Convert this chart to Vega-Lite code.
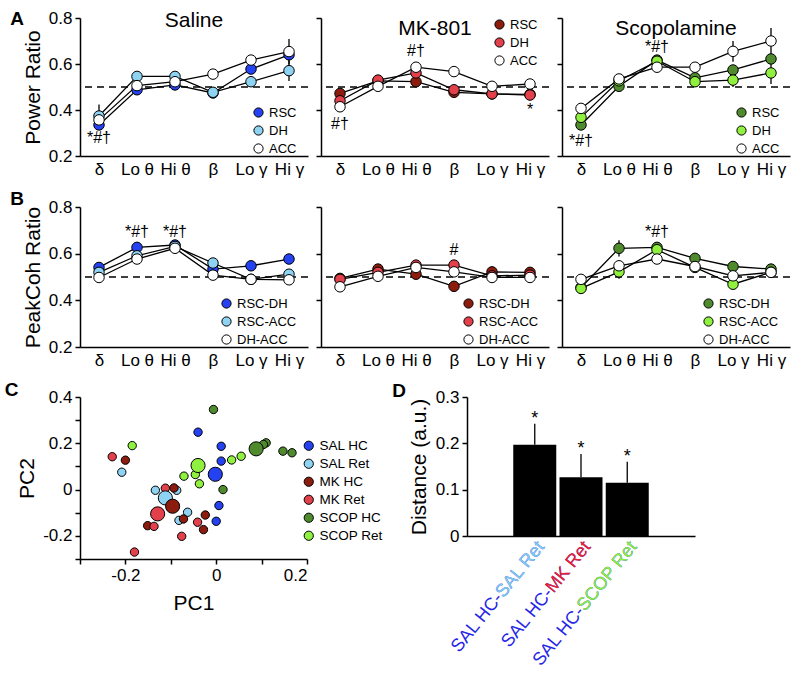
{
  "$schema": "https://vega.github.io/schema/vega-lite/v6.json",
  "padding": {"left": 4, "top": 9, "right": 0, "bottom": 0},
  "spacing": 13,
  "datasets": {
    "power": [
      {"drug":"SAL","s":"RSC","b":"δ","v":0.335},
      {"drug":"SAL","s":"RSC","b":"Lo θ","v":0.488},
      {"drug":"SAL","s":"RSC","b":"Hi θ","v":0.509},
      {"drug":"SAL","s":"RSC","b":"β","v":0.474},
      {"drug":"SAL","s":"RSC","b":"Lo γ","v":0.578,"e":0.02},
      {"drug":"SAL","s":"RSC","b":"Hi γ","v":0.64},
      {"drug":"SAL","s":"DH","b":"δ","v":0.374,"e":0.05},
      {"drug":"SAL","s":"DH","b":"Lo θ","v":0.546},
      {"drug":"SAL","s":"DH","b":"Hi θ","v":0.546},
      {"drug":"SAL","s":"DH","b":"β","v":0.477},
      {"drug":"SAL","s":"DH","b":"Lo γ","v":0.523},
      {"drug":"SAL","s":"DH","b":"Hi γ","v":0.571,"e":0.045},
      {"drug":"SAL","s":"ACC","b":"δ","v":0.357,"e":0.04},
      {"drug":"SAL","s":"ACC","b":"Lo θ","v":0.506},
      {"drug":"SAL","s":"ACC","b":"Hi θ","v":0.523},
      {"drug":"SAL","s":"ACC","b":"β","v":0.556},
      {"drug":"SAL","s":"ACC","b":"Lo γ","v":0.617,"e":0.02},
      {"drug":"SAL","s":"ACC","b":"Hi γ","v":0.654,"e":0.055},
      {"drug":"MK","s":"RSC","b":"δ","v":0.472},
      {"drug":"MK","s":"RSC","b":"Lo θ","v":0.527},
      {"drug":"MK","s":"RSC","b":"Hi θ","v":0.523},
      {"drug":"MK","s":"RSC","b":"β","v":0.477},
      {"drug":"MK","s":"RSC","b":"Lo γ","v":0.47},
      {"drug":"MK","s":"RSC","b":"Hi γ","v":0.468},
      {"drug":"MK","s":"DH","b":"δ","v":0.44},
      {"drug":"MK","s":"DH","b":"Lo θ","v":0.53},
      {"drug":"MK","s":"DH","b":"Hi θ","v":0.561},
      {"drug":"MK","s":"DH","b":"β","v":0.488},
      {"drug":"MK","s":"DH","b":"Lo γ","v":0.47},
      {"drug":"MK","s":"DH","b":"Hi γ","v":0.465},
      {"drug":"MK","s":"ACC","b":"δ","v":0.414},
      {"drug":"MK","s":"ACC","b":"Lo θ","v":0.503},
      {"drug":"MK","s":"ACC","b":"Hi θ","v":0.586},
      {"drug":"MK","s":"ACC","b":"β","v":0.567},
      {"drug":"MK","s":"ACC","b":"Lo γ","v":0.503},
      {"drug":"MK","s":"ACC","b":"Hi γ","v":0.513},
      {"drug":"SCOP","s":"RSC","b":"δ","v":0.335},
      {"drug":"SCOP","s":"RSC","b":"Lo θ","v":0.503},
      {"drug":"SCOP","s":"RSC","b":"Hi θ","v":0.617},
      {"drug":"SCOP","s":"RSC","b":"β","v":0.54},
      {"drug":"SCOP","s":"RSC","b":"Lo γ","v":0.574},
      {"drug":"SCOP","s":"RSC","b":"Hi γ","v":0.622},
      {"drug":"SCOP","s":"DH","b":"δ","v":0.368},
      {"drug":"SCOP","s":"DH","b":"Lo θ","v":0.527},
      {"drug":"SCOP","s":"DH","b":"Hi θ","v":0.612},
      {"drug":"SCOP","s":"DH","b":"β","v":0.523},
      {"drug":"SCOP","s":"DH","b":"Lo γ","v":0.53,"e":0.03},
      {"drug":"SCOP","s":"DH","b":"Hi γ","v":0.561,"e":0.048},
      {"drug":"SCOP","s":"ACC","b":"δ","v":0.407},
      {"drug":"SCOP","s":"ACC","b":"Lo θ","v":0.535},
      {"drug":"SCOP","s":"ACC","b":"Hi θ","v":0.586},
      {"drug":"SCOP","s":"ACC","b":"β","v":0.586},
      {"drug":"SCOP","s":"ACC","b":"Lo γ","v":0.655,"e":0.045},
      {"drug":"SCOP","s":"ACC","b":"Hi γ","v":0.70,"e":0.056}
    ],
    "coh": [
      {"drug":"SAL","s":"RSC-DH","b":"δ","v":0.541,"e":0.02},
      {"drug":"SAL","s":"RSC-DH","b":"Lo θ","v":0.627},
      {"drug":"SAL","s":"RSC-DH","b":"Hi θ","v":0.637},
      {"drug":"SAL","s":"RSC-DH","b":"β","v":0.534},
      {"drug":"SAL","s":"RSC-DH","b":"Lo γ","v":0.548},
      {"drug":"SAL","s":"RSC-DH","b":"Hi γ","v":0.577},
      {"drug":"SAL","s":"RSC-ACC","b":"δ","v":0.52},
      {"drug":"SAL","s":"RSC-ACC","b":"Lo θ","v":0.591},
      {"drug":"SAL","s":"RSC-ACC","b":"Hi θ","v":0.631},
      {"drug":"SAL","s":"RSC-ACC","b":"β","v":0.56},
      {"drug":"SAL","s":"RSC-ACC","b":"Lo γ","v":0.49},
      {"drug":"SAL","s":"RSC-ACC","b":"Hi γ","v":0.512},
      {"drug":"SAL","s":"DH-ACC","b":"δ","v":0.498},
      {"drug":"SAL","s":"DH-ACC","b":"Lo θ","v":0.577},
      {"drug":"SAL","s":"DH-ACC","b":"Hi θ","v":0.623},
      {"drug":"SAL","s":"DH-ACC","b":"β","v":0.508},
      {"drug":"SAL","s":"DH-ACC","b":"Lo γ","v":0.49},
      {"drug":"SAL","s":"DH-ACC","b":"Hi γ","v":0.488},
      {"drug":"MK","s":"RSC-DH","b":"δ","v":0.494},
      {"drug":"MK","s":"RSC-DH","b":"Lo θ","v":0.534},
      {"drug":"MK","s":"RSC-DH","b":"Hi θ","v":0.512},
      {"drug":"MK","s":"RSC-DH","b":"β","v":0.46},
      {"drug":"MK","s":"RSC-DH","b":"Lo γ","v":0.522},
      {"drug":"MK","s":"RSC-DH","b":"Hi γ","v":0.52},
      {"drug":"MK","s":"RSC-ACC","b":"δ","v":0.49},
      {"drug":"MK","s":"RSC-ACC","b":"Lo θ","v":0.52},
      {"drug":"MK","s":"RSC-ACC","b":"Hi θ","v":0.551},
      {"drug":"MK","s":"RSC-ACC","b":"β","v":0.551},
      {"drug":"MK","s":"RSC-ACC","b":"Lo γ","v":0.505},
      {"drug":"MK","s":"RSC-ACC","b":"Hi γ","v":0.508},
      {"drug":"MK","s":"DH-ACC","b":"δ","v":0.458},
      {"drug":"MK","s":"DH-ACC","b":"Lo θ","v":0.503},
      {"drug":"MK","s":"DH-ACC","b":"Hi θ","v":0.541},
      {"drug":"MK","s":"DH-ACC","b":"β","v":0.522},
      {"drug":"MK","s":"DH-ACC","b":"Lo γ","v":0.498},
      {"drug":"MK","s":"DH-ACC","b":"Hi γ","v":0.498},
      {"drug":"SCOP","s":"RSC-DH","b":"δ","v":0.455},
      {"drug":"SCOP","s":"RSC-DH","b":"Lo θ","v":0.623,"e":0.035},
      {"drug":"SCOP","s":"RSC-DH","b":"Hi θ","v":0.627},
      {"drug":"SCOP","s":"RSC-DH","b":"β","v":0.58},
      {"drug":"SCOP","s":"RSC-DH","b":"Lo γ","v":0.545},
      {"drug":"SCOP","s":"RSC-DH","b":"Hi γ","v":0.534},
      {"drug":"SCOP","s":"RSC-ACC","b":"δ","v":0.451},
      {"drug":"SCOP","s":"RSC-ACC","b":"Lo θ","v":0.522,"e":0.03},
      {"drug":"SCOP","s":"RSC-ACC","b":"Hi θ","v":0.617},
      {"drug":"SCOP","s":"RSC-ACC","b":"β","v":0.541},
      {"drug":"SCOP","s":"RSC-ACC","b":"Lo γ","v":0.469},
      {"drug":"SCOP","s":"RSC-ACC","b":"Hi γ","v":0.52},
      {"drug":"SCOP","s":"DH-ACC","b":"δ","v":0.49},
      {"drug":"SCOP","s":"DH-ACC","b":"Lo θ","v":0.548},
      {"drug":"SCOP","s":"DH-ACC","b":"Hi θ","v":0.577},
      {"drug":"SCOP","s":"DH-ACC","b":"β","v":0.545},
      {"drug":"SCOP","s":"DH-ACC","b":"Lo γ","v":0.505},
      {"drug":"SCOP","s":"DH-ACC","b":"Hi γ","v":0.52}
    ],
    "ann": [
      {"p":"A","drug":"SAL","b":"δ","v":0.28,"t":"*#†"},
      {"p":"A","drug":"MK","b":"δ","v":0.34,"t":"#†"},
      {"p":"A","drug":"MK","b":"Hi θ","v":0.657,"t":"#†"},
      {"p":"A","drug":"MK","b":"Hi γ","v":0.40,"t":"*"},
      {"p":"A","drug":"SCOP","b":"δ","v":0.265,"t":"*#†"},
      {"p":"A","drug":"SCOP","b":"Hi θ","v":0.675,"t":"*#†"},
      {"p":"B","drug":"SAL","b":"Lo θ","v":0.694,"t":"*#†"},
      {"p":"B","drug":"SAL","b":"Hi θ","v":0.694,"t":"*#†"},
      {"p":"B","drug":"MK","b":"β","v":0.617,"t":"#"},
      {"p":"B","drug":"SCOP","b":"Hi θ","v":0.694,"t":"*#†"}
    ],
    "pca": [
      {"g":"SAL HC","k":"i","x":-0.040,"y":0.248},
      {"g":"SAL HC","k":"i","x":0.011,"y":0.187},
      {"g":"SAL HC","k":"i","x":0.011,"y":0.123},
      {"g":"SAL HC","k":"i","x":0.006,"y":-0.069},
      {"g":"SAL HC","k":"i","x":0.0,"y":-0.137},
      {"g":"SAL Ret","k":"i","x":-0.208,"y":0.075},
      {"g":"SAL Ret","k":"i","x":-0.134,"y":-0.003},
      {"g":"SAL Ret","k":"i","x":-0.087,"y":-0.003},
      {"g":"SAL Ret","k":"i","x":-0.063,"y":-0.098},
      {"g":"SAL Ret","k":"i","x":-0.082,"y":-0.133},
      {"g":"MK HC","k":"i","x":-0.2,"y":0.127},
      {"g":"MK HC","k":"i","x":-0.093,"y":0.007},
      {"g":"MK HC","k":"i","x":-0.072,"y":-0.127},
      {"g":"MK HC","k":"i","x":-0.151,"y":-0.156},
      {"g":"MK HC","k":"i","x":-0.024,"y":-0.11},
      {"g":"MK HC","k":"i","x":-0.028,"y":-0.173},
      {"g":"MK Ret","k":"i","x":-0.229,"y":0.142},
      {"g":"MK Ret","k":"i","x":-0.112,"y":0.006},
      {"g":"MK Ret","k":"i","x":-0.137,"y":-0.159},
      {"g":"MK Ret","k":"i","x":-0.076,"y":-0.202},
      {"g":"MK Ret","k":"i","x":-0.18,"y":-0.27},
      {"g":"MK Ret","k":"i","x":-0.041,"y":-0.141},
      {"g":"SCOP HC","k":"i","x":-0.006,"y":0.346},
      {"g":"SCOP HC","k":"i","x":0.11,"y":0.202},
      {"g":"SCOP HC","k":"i","x":0.104,"y":0.195},
      {"g":"SCOP HC","k":"i","x":0.147,"y":0.166},
      {"g":"SCOP HC","k":"i","x":0.167,"y":0.159},
      {"g":"SCOP HC","k":"i","x":0.015,"y":0.0},
      {"g":"SCOP Ret","k":"i","x":-0.185,"y":0.19},
      {"g":"SCOP Ret","k":"i","x":-0.071,"y":0.058},
      {"g":"SCOP Ret","k":"i","x":-0.046,"y":0.065},
      {"g":"SCOP Ret","k":"i","x":-0.037,"y":0.025},
      {"g":"SCOP Ret","k":"i","x":0.055,"y":0.144},
      {"g":"SCOP Ret","k":"i","x":0.034,"y":0.128},
      {"g":"SAL HC","k":"m","x":-0.002,"y":0.066},
      {"g":"SAL Ret","k":"m","x":-0.112,"y":-0.036},
      {"g":"MK HC","k":"m","x":-0.096,"y":-0.072},
      {"g":"MK Ret","k":"m","x":-0.129,"y":-0.105},
      {"g":"SCOP HC","k":"m","x":0.088,"y":0.176},
      {"g":"SCOP Ret","k":"m","x":-0.04,"y":0.104}
    ],
    "dist": [
      {"cat":"SAL HC-SAL Ret","p2":"SAL Ret","v":0.197,"hi":0.242},
      {"cat":"SAL HC-MK Ret","p2":"MK Ret","v":0.127,"hi":0.177},
      {"cat":"SAL HC-SCOP Ret","p2":"SCOP Ret","v":0.115,"hi":0.16}
    ]
  },
  "resolve": {"scale": {"color": "independent", "x": "independent", "y": "independent"}, "legend": {"color": "independent"}},
  "vconcat": [
    {
      "title": {"text": "A", "anchor": "start", "frame": "bounds", "fontSize": 19, "fontWeight": "bold", "dx": -12, "offset": -20},
      "spacing": 6,
      "resolve": {"scale": {"color": "independent", "x": "independent", "y": "independent"}, "legend": {"color": "independent"}},
      "hconcat": [
        {
          "width": 228, "height": 138,
          "title": {"text": "Saline", "frame": "group", "offset": -22},
          "layer": [
            {"data": {"values": [{}]}, "mark": {"type": "rule", "color": "black", "strokeDash": [7, 5], "strokeWidth": 1.3}, "encoding": {"y": {"datum": 0.5, "type": "quantitative"}}},
            {"data": {"name": "power"}, "transform": [{"filter": "datum.drug=='SAL' && datum.e > 0"}], "mark": {"type": "errorbar", "color": "black", "thickness": 1.3},
             "encoding": {"x": {"field":"b","type":"ordinal","scale":{"type":"point","padding":0.5,"domain":["δ","Lo θ","Hi θ","β","Lo γ","Hi γ"]},"axis":{"title":null,"ticks":false,"labelAngle":0,"labelPadding":5}},
                          "y": {"field":"v","type":"quantitative","scale":{"domain":[0.2,0.8],"nice":false,"zero":false},"axis":{"title":"Power Ratio","values":[0.2,0.3,0.4,0.5,0.6,0.7,0.8],"labelExpr":"round(datum.value*10)%2==0 ? format(datum.value,'.1f') : ''","titlePadding":5}},
                          "yError": {"field": "e"}}},
            {"data": {"name": "power"}, "transform": [{"filter": "datum.drug=='SAL'"}], "mark": {"type": "line", "color": "black", "strokeWidth": 1.3},
             "encoding": {"x": {"field":"b","type":"ordinal","scale":{"type":"point","padding":0.5,"domain":["δ","Lo θ","Hi θ","β","Lo γ","Hi γ"]},"axis":{"title":null,"ticks":false,"labelAngle":0,"labelPadding":5}},
                          "y": {"field":"v","type":"quantitative","scale":{"domain":[0.2,0.8],"nice":false,"zero":false},"axis":{"title":"Power Ratio","values":[0.2,0.3,0.4,0.5,0.6,0.7,0.8],"labelExpr":"round(datum.value*10)%2==0 ? format(datum.value,'.1f') : ''","titlePadding":5}},
                          "detail": {"field": "s"}, "order": {"value": null}}},
            {"data": {"name": "power"}, "transform": [{"filter": "datum.drug=='SAL'"}], "mark": {"type": "circle", "size": 110, "opacity": 1, "stroke": "black", "strokeWidth": 1},
             "encoding": {"x": {"field":"b","type":"ordinal","scale":{"type":"point","padding":0.5,"domain":["δ","Lo θ","Hi θ","β","Lo γ","Hi γ"]},"axis":{"title":null,"ticks":false,"labelAngle":0,"labelPadding":5}},
                          "y": {"field":"v","type":"quantitative","scale":{"domain":[0.2,0.8],"nice":false,"zero":false},"axis":{"title":"Power Ratio","values":[0.2,0.3,0.4,0.5,0.6,0.7,0.8],"labelExpr":"round(datum.value*10)%2==0 ? format(datum.value,'.1f') : ''","titlePadding":5}},
                          "color": {"field": "s", "type": "nominal", "scale": {"domain": ["RSC","DH","ACC"], "range": ["#2442f2","#8fd3f2","#ffffff"]}, "legend": {"title": null, "orient": "none", "legendX": 172, "legendY": 88}}}},
            {"data": {"name": "ann"}, "transform": [{"filter": "datum.p=='A' && datum.drug=='SAL'"}], "mark": {"type": "text", "fontSize": 16, "baseline": "middle"},
             "encoding": {"x": {"field":"b","type":"ordinal","scale":{"type":"point","padding":0.5,"domain":["δ","Lo θ","Hi θ","β","Lo γ","Hi γ"]},"axis":{"title":null,"ticks":false,"labelAngle":0,"labelPadding":5}},
                          "y": {"field":"v","type":"quantitative","scale":{"domain":[0.2,0.8],"nice":false,"zero":false},"axis":{"title":"Power Ratio","values":[0.2,0.3,0.4,0.5,0.6,0.7,0.8],"labelExpr":"round(datum.value*10)%2==0 ? format(datum.value,'.1f') : ''","titlePadding":5}},
                          "text": {"field": "t"}}}
          ]
        },
        {
          "width": 228, "height": 138,
          "title": {"text": "MK-801", "frame": "group", "offset": -22},
          "layer": [
            {"data": {"values": [{}]}, "mark": {"type": "rule", "color": "black", "strokeDash": [7, 5], "strokeWidth": 1.3}, "encoding": {"y": {"datum": 0.5, "type": "quantitative"}}},
            {"data": {"name": "power"}, "transform": [{"filter": "datum.drug=='MK'"}], "mark": {"type": "line", "color": "black", "strokeWidth": 1.3},
             "encoding": {"x": {"field":"b","type":"ordinal","scale":{"type":"point","padding":0.5,"domain":["δ","Lo θ","Hi θ","β","Lo γ","Hi γ"]},"axis":{"title":null,"ticks":false,"labelAngle":0,"labelPadding":5}},
                          "y": {"field":"v","type":"quantitative","scale":{"domain":[0.2,0.8],"nice":false,"zero":false},"axis":{"title":null,"values":[0.2,0.3,0.4,0.5,0.6,0.7,0.8],"labels":false}},
                          "detail": {"field": "s"}, "order": {"value": null}}},
            {"data": {"name": "power"}, "transform": [{"filter": "datum.drug=='MK'"}], "mark": {"type": "circle", "size": 110, "opacity": 1, "stroke": "black", "strokeWidth": 1},
             "encoding": {"x": {"field":"b","type":"ordinal","scale":{"type":"point","padding":0.5,"domain":["δ","Lo θ","Hi θ","β","Lo γ","Hi γ"]},"axis":{"title":null,"ticks":false,"labelAngle":0,"labelPadding":5}},
                          "y": {"field":"v","type":"quantitative","scale":{"domain":[0.2,0.8],"nice":false,"zero":false},"axis":{"title":null,"values":[0.2,0.3,0.4,0.5,0.6,0.7,0.8],"labels":false}},
                          "color": {"field": "s", "type": "nominal", "scale": {"domain": ["RSC","DH","ACC"], "range": ["#8b1c0e","#e2404a","#ffffff"]}, "legend": {"title": null, "orient": "none", "legendX": 172, "legendY": 0}}}},
            {"data": {"name": "ann"}, "transform": [{"filter": "datum.p=='A' && datum.drug=='MK'"}], "mark": {"type": "text", "fontSize": 16, "baseline": "middle"},
             "encoding": {"x": {"field":"b","type":"ordinal","scale":{"type":"point","padding":0.5,"domain":["δ","Lo θ","Hi θ","β","Lo γ","Hi γ"]},"axis":{"title":null,"ticks":false,"labelAngle":0,"labelPadding":5}},
                          "y": {"field":"v","type":"quantitative","scale":{"domain":[0.2,0.8],"nice":false,"zero":false},"axis":{"title":null,"values":[0.2,0.3,0.4,0.5,0.6,0.7,0.8],"labels":false}},
                          "text": {"field": "t"}}}
          ]
        },
        {
          "width": 228, "height": 138,
          "title": {"text": "Scopolamine", "frame": "group", "offset": -22},
          "layer": [
            {"data": {"values": [{}]}, "mark": {"type": "rule", "color": "black", "strokeDash": [7, 5], "strokeWidth": 1.3}, "encoding": {"y": {"datum": 0.5, "type": "quantitative"}}},
            {"data": {"name": "power"}, "transform": [{"filter": "datum.drug=='SCOP' && datum.e > 0"}], "mark": {"type": "errorbar", "color": "black", "thickness": 1.3},
             "encoding": {"x": {"field":"b","type":"ordinal","scale":{"type":"point","padding":0.5,"domain":["δ","Lo θ","Hi θ","β","Lo γ","Hi γ"]},"axis":{"title":null,"ticks":false,"labelAngle":0,"labelPadding":5}},
                          "y": {"field":"v","type":"quantitative","scale":{"domain":[0.2,0.8],"nice":false,"zero":false},"axis":{"title":null,"values":[0.2,0.3,0.4,0.5,0.6,0.7,0.8],"labels":false}},
                          "yError": {"field": "e"}}},
            {"data": {"name": "power"}, "transform": [{"filter": "datum.drug=='SCOP'"}], "mark": {"type": "line", "color": "black", "strokeWidth": 1.3},
             "encoding": {"x": {"field":"b","type":"ordinal","scale":{"type":"point","padding":0.5,"domain":["δ","Lo θ","Hi θ","β","Lo γ","Hi γ"]},"axis":{"title":null,"ticks":false,"labelAngle":0,"labelPadding":5}},
                          "y": {"field":"v","type":"quantitative","scale":{"domain":[0.2,0.8],"nice":false,"zero":false},"axis":{"title":null,"values":[0.2,0.3,0.4,0.5,0.6,0.7,0.8],"labels":false}},
                          "detail": {"field": "s"}, "order": {"value": null}}},
            {"data": {"name": "power"}, "transform": [{"filter": "datum.drug=='SCOP'"}], "mark": {"type": "circle", "size": 110, "opacity": 1, "stroke": "black", "strokeWidth": 1},
             "encoding": {"x": {"field":"b","type":"ordinal","scale":{"type":"point","padding":0.5,"domain":["δ","Lo θ","Hi θ","β","Lo γ","Hi γ"]},"axis":{"title":null,"ticks":false,"labelAngle":0,"labelPadding":5}},
                          "y": {"field":"v","type":"quantitative","scale":{"domain":[0.2,0.8],"nice":false,"zero":false},"axis":{"title":null,"values":[0.2,0.3,0.4,0.5,0.6,0.7,0.8],"labels":false}},
                          "color": {"field": "s", "type": "nominal", "scale": {"domain": ["RSC","DH","ACC"], "range": ["#4f8a2d","#8ff03f","#ffffff"]}, "legend": {"title": null, "orient": "none", "legendX": 173, "legendY": 88}}}},
            {"data": {"name": "ann"}, "transform": [{"filter": "datum.p=='A' && datum.drug=='SCOP'"}], "mark": {"type": "text", "fontSize": 16, "baseline": "middle"},
             "encoding": {"x": {"field":"b","type":"ordinal","scale":{"type":"point","padding":0.5,"domain":["δ","Lo θ","Hi θ","β","Lo γ","Hi γ"]},"axis":{"title":null,"ticks":false,"labelAngle":0,"labelPadding":5}},
                          "y": {"field":"v","type":"quantitative","scale":{"domain":[0.2,0.8],"nice":false,"zero":false},"axis":{"title":null,"values":[0.2,0.3,0.4,0.5,0.6,0.7,0.8],"labels":false}},
                          "text": {"field": "t"}}}
          ]
        }
      ]
    },
    {
      "title": {"text": "B", "anchor": "start", "frame": "bounds", "fontSize": 19, "fontWeight": "bold", "dx": -12, "offset": -11},
      "spacing": 6,
      "resolve": {"scale": {"color": "independent", "x": "independent", "y": "independent"}, "legend": {"color": "independent"}},
      "hconcat": [
        {
          "width": 228, "height": 140,
          "layer": [
            {"data": {"values": [{}]}, "mark": {"type": "rule", "color": "black", "strokeDash": [7, 5], "strokeWidth": 1.3}, "encoding": {"y": {"datum": 0.5, "type": "quantitative"}}},
            {"data": {"name": "coh"}, "transform": [{"filter": "datum.drug=='SAL' && datum.e > 0"}], "mark": {"type": "errorbar", "color": "black", "thickness": 1.3},
             "encoding": {"x": {"field":"b","type":"ordinal","scale":{"type":"point","padding":0.5,"domain":["δ","Lo θ","Hi θ","β","Lo γ","Hi γ"]},"axis":{"title":null,"ticks":false,"labelAngle":0,"labelPadding":5}},
                          "y": {"field":"v","type":"quantitative","scale":{"domain":[0.2,0.8],"nice":false,"zero":false},"axis":{"title":"PeakCoh Ratio","values":[0.2,0.3,0.4,0.5,0.6,0.7,0.8],"labelExpr":"round(datum.value*10)%2==0 ? format(datum.value,'.1f') : ''","titlePadding":5}},
                          "yError": {"field": "e"}}},
            {"data": {"name": "coh"}, "transform": [{"filter": "datum.drug=='SAL'"}], "mark": {"type": "line", "color": "black", "strokeWidth": 1.3},
             "encoding": {"x": {"field":"b","type":"ordinal","scale":{"type":"point","padding":0.5,"domain":["δ","Lo θ","Hi θ","β","Lo γ","Hi γ"]},"axis":{"title":null,"ticks":false,"labelAngle":0,"labelPadding":5}},
                          "y": {"field":"v","type":"quantitative","scale":{"domain":[0.2,0.8],"nice":false,"zero":false},"axis":{"title":"PeakCoh Ratio","values":[0.2,0.3,0.4,0.5,0.6,0.7,0.8],"labelExpr":"round(datum.value*10)%2==0 ? format(datum.value,'.1f') : ''","titlePadding":5}},
                          "detail": {"field": "s"}, "order": {"value": null}}},
            {"data": {"name": "coh"}, "transform": [{"filter": "datum.drug=='SAL'"}], "mark": {"type": "circle", "size": 110, "opacity": 1, "stroke": "black", "strokeWidth": 1},
             "encoding": {"x": {"field":"b","type":"ordinal","scale":{"type":"point","padding":0.5,"domain":["δ","Lo θ","Hi θ","β","Lo γ","Hi γ"]},"axis":{"title":null,"ticks":false,"labelAngle":0,"labelPadding":5}},
                          "y": {"field":"v","type":"quantitative","scale":{"domain":[0.2,0.8],"nice":false,"zero":false},"axis":{"title":"PeakCoh Ratio","values":[0.2,0.3,0.4,0.5,0.6,0.7,0.8],"labelExpr":"round(datum.value*10)%2==0 ? format(datum.value,'.1f') : ''","titlePadding":5}},
                          "color": {"field": "s", "type": "nominal", "scale": {"domain": ["RSC-DH","RSC-ACC","DH-ACC"], "range": ["#2442f2","#8fd3f2","#ffffff"]}, "legend": {"title": null, "orient": "none", "legendX": 140, "legendY": 90}}}},
            {"data": {"name": "ann"}, "transform": [{"filter": "datum.p=='B' && datum.drug=='SAL'"}], "mark": {"type": "text", "fontSize": 16, "baseline": "middle"},
             "encoding": {"x": {"field":"b","type":"ordinal","scale":{"type":"point","padding":0.5,"domain":["δ","Lo θ","Hi θ","β","Lo γ","Hi γ"]},"axis":{"title":null,"ticks":false,"labelAngle":0,"labelPadding":5}},
                          "y": {"field":"v","type":"quantitative","scale":{"domain":[0.2,0.8],"nice":false,"zero":false},"axis":{"title":"PeakCoh Ratio","values":[0.2,0.3,0.4,0.5,0.6,0.7,0.8],"labelExpr":"round(datum.value*10)%2==0 ? format(datum.value,'.1f') : ''","titlePadding":5}},
                          "text": {"field": "t"}}}
          ]
        },
        {
          "width": 228, "height": 140,
          "layer": [
            {"data": {"values": [{}]}, "mark": {"type": "rule", "color": "black", "strokeDash": [7, 5], "strokeWidth": 1.3}, "encoding": {"y": {"datum": 0.5, "type": "quantitative"}}},
            {"data": {"name": "coh"}, "transform": [{"filter": "datum.drug=='MK'"}], "mark": {"type": "line", "color": "black", "strokeWidth": 1.3},
             "encoding": {"x": {"field":"b","type":"ordinal","scale":{"type":"point","padding":0.5,"domain":["δ","Lo θ","Hi θ","β","Lo γ","Hi γ"]},"axis":{"title":null,"ticks":false,"labelAngle":0,"labelPadding":5}},
                          "y": {"field":"v","type":"quantitative","scale":{"domain":[0.2,0.8],"nice":false,"zero":false},"axis":{"title":null,"values":[0.2,0.3,0.4,0.5,0.6,0.7,0.8],"labels":false}},
                          "detail": {"field": "s"}, "order": {"value": null}}},
            {"data": {"name": "coh"}, "transform": [{"filter": "datum.drug=='MK'"}], "mark": {"type": "circle", "size": 110, "opacity": 1, "stroke": "black", "strokeWidth": 1},
             "encoding": {"x": {"field":"b","type":"ordinal","scale":{"type":"point","padding":0.5,"domain":["δ","Lo θ","Hi θ","β","Lo γ","Hi γ"]},"axis":{"title":null,"ticks":false,"labelAngle":0,"labelPadding":5}},
                          "y": {"field":"v","type":"quantitative","scale":{"domain":[0.2,0.8],"nice":false,"zero":false},"axis":{"title":null,"values":[0.2,0.3,0.4,0.5,0.6,0.7,0.8],"labels":false}},
                          "color": {"field": "s", "type": "nominal", "scale": {"domain": ["RSC-DH","RSC-ACC","DH-ACC"], "range": ["#8b1c0e","#e2404a","#ffffff"]}, "legend": {"title": null, "orient": "none", "legendX": 141, "legendY": 90}}}},
            {"data": {"name": "ann"}, "transform": [{"filter": "datum.p=='B' && datum.drug=='MK'"}], "mark": {"type": "text", "fontSize": 16, "baseline": "middle"},
             "encoding": {"x": {"field":"b","type":"ordinal","scale":{"type":"point","padding":0.5,"domain":["δ","Lo θ","Hi θ","β","Lo γ","Hi γ"]},"axis":{"title":null,"ticks":false,"labelAngle":0,"labelPadding":5}},
                          "y": {"field":"v","type":"quantitative","scale":{"domain":[0.2,0.8],"nice":false,"zero":false},"axis":{"title":null,"values":[0.2,0.3,0.4,0.5,0.6,0.7,0.8],"labels":false}},
                          "text": {"field": "t"}}}
          ]
        },
        {
          "width": 228, "height": 140,
          "layer": [
            {"data": {"values": [{}]}, "mark": {"type": "rule", "color": "black", "strokeDash": [7, 5], "strokeWidth": 1.3}, "encoding": {"y": {"datum": 0.5, "type": "quantitative"}}},
            {"data": {"name": "coh"}, "transform": [{"filter": "datum.drug=='SCOP' && datum.e > 0"}], "mark": {"type": "errorbar", "color": "black", "thickness": 1.3},
             "encoding": {"x": {"field":"b","type":"ordinal","scale":{"type":"point","padding":0.5,"domain":["δ","Lo θ","Hi θ","β","Lo γ","Hi γ"]},"axis":{"title":null,"ticks":false,"labelAngle":0,"labelPadding":5}},
                          "y": {"field":"v","type":"quantitative","scale":{"domain":[0.2,0.8],"nice":false,"zero":false},"axis":{"title":null,"values":[0.2,0.3,0.4,0.5,0.6,0.7,0.8],"labels":false}},
                          "yError": {"field": "e"}}},
            {"data": {"name": "coh"}, "transform": [{"filter": "datum.drug=='SCOP'"}], "mark": {"type": "line", "color": "black", "strokeWidth": 1.3},
             "encoding": {"x": {"field":"b","type":"ordinal","scale":{"type":"point","padding":0.5,"domain":["δ","Lo θ","Hi θ","β","Lo γ","Hi γ"]},"axis":{"title":null,"ticks":false,"labelAngle":0,"labelPadding":5}},
                          "y": {"field":"v","type":"quantitative","scale":{"domain":[0.2,0.8],"nice":false,"zero":false},"axis":{"title":null,"values":[0.2,0.3,0.4,0.5,0.6,0.7,0.8],"labels":false}},
                          "detail": {"field": "s"}, "order": {"value": null}}},
            {"data": {"name": "coh"}, "transform": [{"filter": "datum.drug=='SCOP'"}], "mark": {"type": "circle", "size": 110, "opacity": 1, "stroke": "black", "strokeWidth": 1},
             "encoding": {"x": {"field":"b","type":"ordinal","scale":{"type":"point","padding":0.5,"domain":["δ","Lo θ","Hi θ","β","Lo γ","Hi γ"]},"axis":{"title":null,"ticks":false,"labelAngle":0,"labelPadding":5}},
                          "y": {"field":"v","type":"quantitative","scale":{"domain":[0.2,0.8],"nice":false,"zero":false},"axis":{"title":null,"values":[0.2,0.3,0.4,0.5,0.6,0.7,0.8],"labels":false}},
                          "color": {"field": "s", "type": "nominal", "scale": {"domain": ["RSC-DH","RSC-ACC","DH-ACC"], "range": ["#4f8a2d","#8ff03f","#ffffff"]}, "legend": {"title": null, "orient": "none", "legendX": 140, "legendY": 90}}}},
            {"data": {"name": "ann"}, "transform": [{"filter": "datum.p=='B' && datum.drug=='SCOP'"}], "mark": {"type": "text", "fontSize": 16, "baseline": "middle"},
             "encoding": {"x": {"field":"b","type":"ordinal","scale":{"type":"point","padding":0.5,"domain":["δ","Lo θ","Hi θ","β","Lo γ","Hi γ"]},"axis":{"title":null,"ticks":false,"labelAngle":0,"labelPadding":5}},
                          "y": {"field":"v","type":"quantitative","scale":{"domain":[0.2,0.8],"nice":false,"zero":false},"axis":{"title":null,"values":[0.2,0.3,0.4,0.5,0.6,0.7,0.8],"labels":false}},
                          "text": {"field": "t"}}}
          ]
        }
      ]
    },
    {
      "spacing": 9,
      "resolve": {"scale": {"color": "independent", "x": "independent", "y": "independent"}, "legend": {"color": "independent"}},
      "hconcat": [
        {
          "width": 227, "height": 162,
          "title": {"text": "C", "anchor": "start", "frame": "bounds", "fontSize": 19, "fontWeight": "bold", "dx": -12, "offset": -12},
          "layer": [
            {"data": {"name": "pca"}, "transform": [{"filter": "datum.k=='i'"}], "mark": {"type": "circle", "size": 70, "opacity": 1, "stroke": "black", "strokeWidth": 1},
             "encoding": {
               "x": {"field":"x","type":"quantitative","scale":{"domain":[-0.3,0.2],"nice":false,"zero":false},"axis":{"title":"PC1","values":[-0.3,-0.2,-0.1,0,0.1,0.2],"labelExpr":"round(datum.value*10)%2==0 ? (round(datum.value*10)==0 ? '0' : (datum.value<0 ? '-' : '') + format(abs(datum.value),'.1f')) : ''","labelPadding":3,"titlePadding":9}},
               "y": {"field":"y","type":"quantitative","scale":{"domain":[-0.3,0.4],"nice":false,"zero":false},"axis":{"title":"PC2","values":[-0.3,-0.2,-0.1,0,0.1,0.2,0.3,0.4],"labelExpr":"round(datum.value*10)%2==0 ? (round(datum.value*10)==0 ? '0' : (datum.value<0 ? '-' : '') + format(abs(datum.value),'.1f')) : ''","titlePadding":5}},
               "color": {"field":"g","type":"nominal","scale":{"domain":["SAL HC","SAL Ret","MK HC","MK Ret","SCOP HC","SCOP Ret"],"range":["#2442f2","#8fd3f2","#8b1c0e","#e2404a","#4f8a2d","#8ff03f"]},"legend":{"title":null,"orient":"none","legendX":222,"legendY":42,"labelFontSize":13.5}}}},
            {"data": {"name": "pca"}, "transform": [{"filter": "datum.k=='m'"}], "mark": {"type": "circle", "size": 200, "opacity": 1, "stroke": "black", "strokeWidth": 1},
             "encoding": {
               "x": {"field":"x","type":"quantitative","scale":{"domain":[-0.3,0.2],"nice":false,"zero":false},"axis":{"title":"PC1","values":[-0.3,-0.2,-0.1,0,0.1,0.2],"labelExpr":"round(datum.value*10)%2==0 ? (round(datum.value*10)==0 ? '0' : (datum.value<0 ? '-' : '') + format(abs(datum.value),'.1f')) : ''","labelPadding":3,"titlePadding":9}},
               "y": {"field":"y","type":"quantitative","scale":{"domain":[-0.3,0.4],"nice":false,"zero":false},"axis":{"title":"PC2","values":[-0.3,-0.2,-0.1,0,0.1,0.2,0.3,0.4],"labelExpr":"round(datum.value*10)%2==0 ? (round(datum.value*10)==0 ? '0' : (datum.value<0 ? '-' : '') + format(abs(datum.value),'.1f')) : ''","titlePadding":5}},
               "color": {"field":"g","type":"nominal","scale":{"domain":["SAL HC","SAL Ret","MK HC","MK Ret","SCOP HC","SCOP Ret"],"range":["#2442f2","#8fd3f2","#8b1c0e","#e2404a","#4f8a2d","#8ff03f"]},"legend":{"title":null,"orient":"none","legendX":222,"legendY":42,"labelFontSize":13.5}}}}
          ]
        },
        {
          "width": 228, "height": 139,
          "title": {"text": "D", "anchor": "start", "frame": "bounds", "fontSize": 19, "fontWeight": "bold", "dx": -16, "offset": -13},
          "layer": [
            {"data": {"name": "dist"}, "mark": {"type": "rule", "color": "black", "strokeWidth": 1.3},
             "encoding": {
               "x": {"field":"cat","type":"nominal","scale":{"domain":["SAL HC-SAL Ret","SAL HC-MK Ret","SAL HC-SCOP Ret"],"paddingInner":0.07,"paddingOuter":1},"axis":{"title":null,"labels":false,"ticks":false}},
               "y": {"field":"v","type":"quantitative","scale":{"domain":[0,0.3],"nice":false},"axis":{"title":"Distance (a.u.)","values":[0,0.1,0.2,0.3],"labelExpr":"datum.value==0 ? '0' : format(datum.value,'.1f')","titlePadding":6}},
               "y2": {"field":"hi"}}},
            {"data": {"name": "dist"}, "mark": {"type": "bar", "color": "black"},
             "encoding": {
               "x": {"field":"cat","type":"nominal","scale":{"domain":["SAL HC-SAL Ret","SAL HC-MK Ret","SAL HC-SCOP Ret"],"paddingInner":0.07,"paddingOuter":1},"axis":{"title":null,"labels":false,"ticks":false}},
               "y": {"field":"v","type":"quantitative","scale":{"domain":[0,0.3],"nice":false},"axis":{"title":"Distance (a.u.)","values":[0,0.1,0.2,0.3],"labelExpr":"datum.value==0 ? '0' : format(datum.value,'.1f')","titlePadding":6}}}},
            {"data": {"name": "dist"}, "mark": {"type": "text", "text": "*", "fontSize": 18, "baseline": "middle", "dy": -5},
             "encoding": {
               "x": {"field":"cat","type":"nominal","scale":{"domain":["SAL HC-SAL Ret","SAL HC-MK Ret","SAL HC-SCOP Ret"],"paddingInner":0.07,"paddingOuter":1},"axis":{"title":null,"labels":false,"ticks":false}},
               "y": {"field":"hi","type":"quantitative","scale":{"domain":[0,0.3],"nice":false},"axis":{"title":"Distance (a.u.)","values":[0,0.1,0.2,0.3],"labelExpr":"datum.value==0 ? '0' : format(datum.value,'.1f')","titlePadding":6}}}},
            {"data": {"name": "dist"}, "mark": {"type": "text", "angle": -51, "align": "right", "baseline": "middle", "fontSize": 18, "dx": -2, "dy": 10, "color": "#2626e6"},
             "encoding": {
               "x": {"field":"cat","type":"nominal","scale":{"domain":["SAL HC-SAL Ret","SAL HC-MK Ret","SAL HC-SCOP Ret"],"paddingInner":0.07,"paddingOuter":1},"axis":{"title":null,"labels":false,"ticks":false}},
               "y": {"datum": 0, "type": "quantitative"},
               "text": {"field": "cat"}}},
            {"data": {"name": "dist"}, "mark": {"type": "text", "angle": -51, "align": "right", "baseline": "middle", "fontSize": 18, "dx": -2, "dy": 10},
             "encoding": {
               "x": {"field":"cat","type":"nominal","scale":{"domain":["SAL HC-SAL Ret","SAL HC-MK Ret","SAL HC-SCOP Ret"],"paddingInner":0.07,"paddingOuter":1},"axis":{"title":null,"labels":false,"ticks":false}},
               "y": {"datum": 0, "type": "quantitative"},
               "text": {"field": "p2"},
               "color": {"field": "cat", "type": "nominal", "scale": {"domain": ["SAL HC-SAL Ret","SAL HC-MK Ret","SAL HC-SCOP Ret"], "range": ["#7fcbef","#e8232f","#86f03c"]}, "legend": null}}}
          ]
        }
      ]
    }
  ],
  "config": {
    "font": "Liberation Sans",
    "view": {"stroke": null},
    "axis": {"grid": false, "domainColor": "black", "domainWidth": 1.5, "tickColor": "black", "tickWidth": 1.5, "tickSize": 5, "labelColor": "black", "labelFontSize": 17, "labelFont": "Liberation Sans", "titleFont": "Liberation Sans", "titleFontSize": 21, "titleFontWeight": "normal", "titleColor": "black", "labelPadding": 3},
    "legend": {"symbolType": "circle", "symbolSize": 85, "symbolStrokeColor": "black", "symbolStrokeWidth": 1, "symbolOpacity": 1, "labelFontSize": 13, "labelFont": "Liberation Sans", "labelColor": "black", "rowPadding": 3, "padding": 0, "labelOffset": 4},
    "title": {"font": "Liberation Sans", "fontSize": 21, "fontWeight": "normal", "color": "black"},
    "text": {"font": "Liberation Sans", "color": "black"}
  }
}
